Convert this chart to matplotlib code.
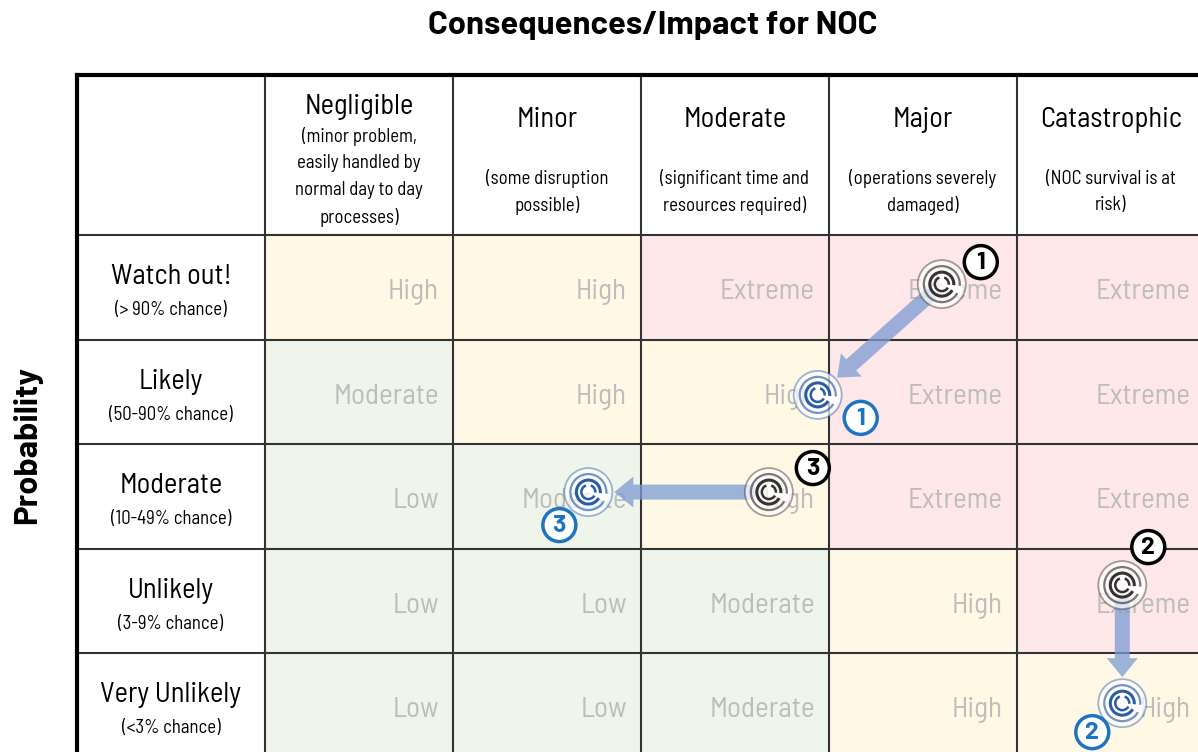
import matplotlib.pyplot as plt
from matplotlib.patches import Rectangle, Circle, Wedge

# risk matrix content
impacts = ['Negligible', 'Minor', 'Moderate', 'Major', 'Catastrophic']
impact_notes = ['(minor problem,\neasily handled by\nnormal day to day\nprocesses)',
                '(some disruption\npossible)',
                '(significant time and\nresources required)',
                '(operations severely\ndamaged)',
                '(NOC survival is at\nrisk)']
likelihoods = ['Watch out!', 'Likely', 'Moderate', 'Unlikely', 'Very Unlikely']
likelihood_notes = ['(> 90% chance)', '(50-90% chance)', '(10-49% chance)',
                    '(3-9% chance)', '(<3% chance)']
ratings = [
    ['High', 'High', 'Extreme', 'Extreme', 'Extreme'],
    ['Moderate', 'High', 'High', 'Extreme', 'Extreme'],
    ['Low', 'Moderate', 'High', 'Extreme', 'Extreme'],
    ['Low', 'Low', 'Moderate', 'High', 'Extreme'],
    ['Low', 'Low', 'Moderate', 'High', 'High'],
]

# risks: (likelihood row, impact col) before and after mitigation
risk_ids = ['1', '2', '3']
risk_before = [(0, 3), (3, 4), (2, 2)]
risk_after = [(1, 2), (4, 4), (2, 1)]

# where the icons sit inside their cells (fraction of width, height)
before_spot = [(0.60, 0.47), (0.56, 0.35), (0.68, 0.46)]
after_spot = [(0.94, 0.53), (0.56, 0.48), (0.72, 0.46)]
before_tag = [(39, -22), (26, -38), (44, -24)]
after_tag = [(43, 23), (-30, 29), (-29, 33)]

rating_colors = {'Low': '#EFF5EA', 'Moderate': '#EFF5EA',
                 'High': '#FFF8E5', 'Extreme': '#FDE7E8'}

cond = ['Barlow Semi Condensed', 'DejaVu Sans']
bold = ['Barlow', 'DejaVu Sans']

fig = plt.figure(figsize=(11.98, 7.52), dpi=100)
ax = fig.add_axes([0, 0, 1, 1])
ax.set_xlim(0, 1198)
ax.set_ylim(752, 0)
ax.axis('off')

x0, y0 = 77, 75
col_w, head_h, row_h = 188, 160, 104.5


def cell_x(j):
    return x0 + col_w * (j + 1)


def cell_y(i):
    return y0 + head_h + row_h * i


# cells
for i, row in enumerate(ratings):
    for j, val in enumerate(row):
        ax.add_patch(Rectangle((cell_x(j), cell_y(i)), col_w, row_h,
                               fc=rating_colors[val], ec='none', zorder=0))
        ax.text(cell_x(j) + col_w - 14, cell_y(i) + row_h / 2 + 5, val,
                ha='right', va='center', fontsize=21, color='#BDBDBD',
                family=cond, zorder=1)

# grid lines
right, bottom = x0 + col_w * 6, cell_y(5)
for j in range(1, 6):
    ax.plot([x0 + col_w * j] * 2, [y0, bottom], color='#333333', lw=1.5, zorder=2)
for i in range(0, 5):
    ax.plot([x0, right], [cell_y(i)] * 2, color='#333333', lw=1.5, zorder=2)
ax.plot([x0, x0], [y0, bottom], color='black', lw=3, zorder=3)
ax.plot([x0, right], [y0, y0], color='black', lw=3, zorder=3)

# headers
for j, (name, note) in enumerate(zip(impacts, impact_notes)):
    cx = cell_x(j) + col_w / 2
    if note.count('\n') > 1:
        ax.text(cx, 107, name, ha='center', va='center', fontsize=20.5, family=cond)
        ax.text(cx, 177, note, ha='center', va='center', fontsize=13.5,
                family=cond, linespacing=1.62)
    else:
        ax.text(cx, 120, name, ha='center', va='center', fontsize=20.5, family=cond)
        ax.text(cx, 192, note, ha='center', va='center', fontsize=13.5,
                family=cond, linespacing=1.58)

for i, (name, note) in enumerate(zip(likelihoods, likelihood_notes)):
    cy = cell_y(i) + row_h / 2
    ax.text(x0 + col_w / 2, cy - 10, name, ha='center', va='center',
            fontsize=20.5, family=cond)
    ax.text(x0 + col_w / 2, cy + 23, note, ha='center', va='center',
            fontsize=13.5, family=cond)

ax.text(653, 26, 'Consequences/Impact for NOC', ha='center', va='center',
        fontsize=23.5, fontweight='bold', family=bold)
ax.text(27, 445, 'Probability', ha='center', va='center', rotation=90,
        fontsize=23.5, fontweight='bold', family=bold)


def target_icon(x, y, color):
    ax.add_patch(Circle((x, y), 24, fc='white', ec='none', alpha=0.7, zorder=5))
    ax.add_patch(Circle((x, y), 24, fill=False, ec=color, lw=1.3, alpha=0.45, zorder=6))
    ax.add_patch(Circle((x, y), 18, fill=False, ec=color, lw=1.6, alpha=0.65, zorder=6))
    ax.add_patch(Circle((x, y), 12, fill=False, ec=color, lw=2.2, zorder=6))
    ax.add_patch(Circle((x, y), 7, fill=False, ec=color, lw=1.8, zorder=6))
    ax.add_patch(Wedge((x, y), 21, 5, 30, fc='white', ec='none', zorder=7))
    ax.add_patch(Wedge((x, y), 9, 250, 290, fc='white', ec='none', zorder=7))


def tag(x, y, label, color):
    ax.add_patch(Circle((x, y), 16.5, fc='white', ec=color, lw=2.5, zorder=8))
    ax.text(x, y + 1, label, ha='center', va='center', fontsize=18,
            fontweight='bold', color=color, family=bold, zorder=9)


for k, rid in enumerate(risk_ids):
    (bi, bj), (ai, aj) = risk_before[k], risk_after[k]
    bx = cell_x(bj) + col_w * before_spot[k][0]
    by = cell_y(bi) + row_h * before_spot[k][1]
    axx = cell_x(aj) + col_w * after_spot[k][0]
    ayy = cell_y(ai) + row_h * after_spot[k][1]
    dx, dy = axx - bx, ayy - by
    d = (dx ** 2 + dy ** 2) ** 0.5
    ux, uy = dx / d, dy / d
    sx, sy = bx + ux * 14, by + uy * 14
    ax.arrow(sx, sy, dx - ux * 40, dy - uy * 40, width=15, head_width=31,
             head_length=19, length_includes_head=True, fc='#7C9BD3',
             ec='none', alpha=0.75, zorder=4)
    target_icon(bx, by, '#333333')
    target_icon(axx, ayy, '#2A5DA8')
    tag(bx + before_tag[k][0], by + before_tag[k][1], rid, 'black')
    tag(axx + after_tag[k][0], ayy + after_tag[k][1], rid, '#1F74C2')

fig.savefig('out.png', dpi=100)
